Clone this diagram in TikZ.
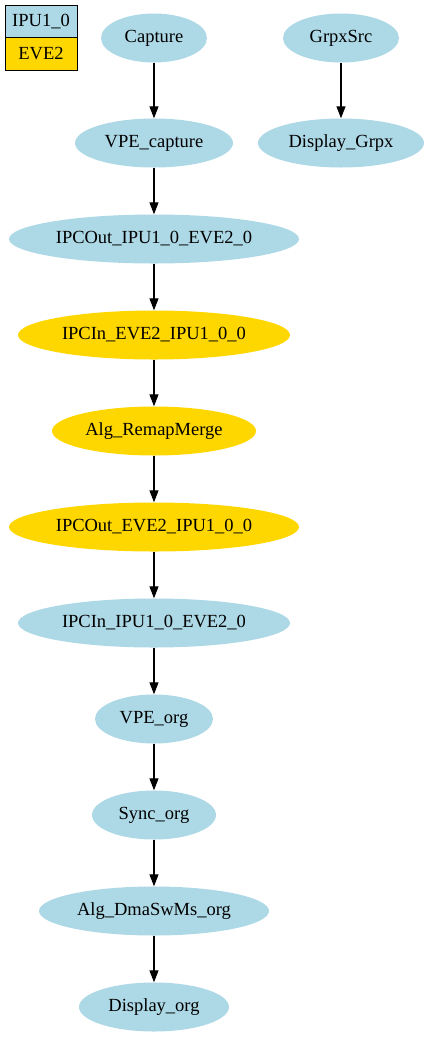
\documentclass[tikz,border=0pt]{standalone}
\usepackage{fontspec}
\setmainfont{Liberation Serif}
\usetikzlibrary{arrows.meta,shapes.geometric}
\definecolor{lb}{RGB}{173,216,230}
\definecolor{gd}{RGB}{255,215,0}
\begin{document}
\begin{tikzpicture}[x=1pt,y=-1pt,
  every node/.style={font=\fontsize{18.5}{22}\selectfont, inner sep=0pt},
  ell/.style={ellipse, minimum height=49pt},
  blue/.style={ell, fill=lb},
  gold/.style={ell, fill=gd},
  edge/.style={draw=black, line width=1.1pt, -{Triangle[length=12pt,width=9pt]}},
  leg/.style={rectangle, draw=black, line width=1pt, minimum width=72pt, minimum height=32.5pt}
]
\useasboundingbox (0,0) rectangle (429,1037);
\node[leg, fill=lb] (l1) at (41,21.25) {IPU1\_0};
\node[leg, fill=gd] (l2) at (41,53.75) {EVE2};

\node[blue, minimum width=106pt] (cap) at (154,38) {Capture};
\node[blue, minimum width=116pt] (gs) at (341,38) {GrpxSrc};
\node[blue, minimum width=158pt] (vpec) at (154,143) {VPE\_capture};
\node[blue, minimum width=166pt] (dg) at (341,143) {Display\_Grpx};
\node[blue, minimum width=290pt] (ipco1) at (154,239) {IPCOut\_IPU1\_0\_EVE2\_0};
\node[gold, minimum width=272pt] (ipci1) at (154,335) {IPCIn\_EVE2\_IPU1\_0\_0};
\node[gold, minimum width=204pt] (alg) at (154,431) {Alg\_RemapMerge};
\node[gold, minimum width=290pt] (ipco2) at (154,527) {IPCOut\_EVE2\_IPU1\_0\_0};
\node[blue, minimum width=272pt] (ipci2) at (154,623) {IPCIn\_IPU1\_0\_EVE2\_0};
\node[blue, minimum width=118pt] (vpeo) at (154,719) {VPE\_org};
\node[blue, minimum width=124pt] (sync) at (154,815) {Sync\_org};
\node[blue, minimum width=230pt] (dma) at (154,911) {Alg\_DmaSwMs\_org};
\node[blue, minimum width=150pt] (dorg) at (154,1007) {Display\_org};

\draw[edge] (cap) -- (vpec);
\draw[edge] (gs) -- (dg);
\draw[edge] (vpec) -- (ipco1);
\draw[edge] (ipco1) -- (ipci1);
\draw[edge] (ipci1) -- (alg);
\draw[edge] (alg) -- (ipco2);
\draw[edge] (ipco2) -- (ipci2);
\draw[edge] (ipci2) -- (vpeo);
\draw[edge] (vpeo) -- (sync);
\draw[edge] (sync) -- (dma);
\draw[edge] (dma) -- (dorg);
\end{tikzpicture}
\end{document}
